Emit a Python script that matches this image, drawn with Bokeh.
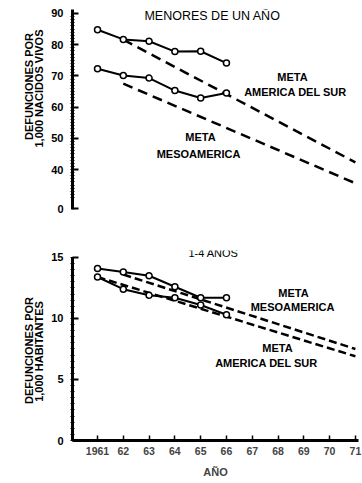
from math import pi
from bokeh.plotting import figure
from bokeh.layouts import column, row
from bokeh.models import Range1d, FixedTicker, Label
from bokeh.core.properties import value
from bokeh.embed import file_html
from bokeh.resources import INLINE

# ---------------- data ----------------
years = [1961, 1962, 1963, 1964, 1965, 1966]

# Menores de un año (defunciones por 1,000 nacidos vivos)
infant_sur = [84.8, 81.7, 81.1, 77.8, 77.9, 74.1]
infant_meso = [72.3, 70.1, 69.3, 65.3, 62.9, 64.5]
goal_infant_sur_years = [1962, 1971]
goal_infant_sur = [81.6, 42.3]
goal_infant_meso_years = [1962, 1971]
goal_infant_meso = [67.5, 35.6]

# 1-4 años (defunciones por 1,000 habitantes)
child_meso = [14.1, 13.8, 13.5, 12.6, 11.7, 11.7]
child_sur = [13.4, 12.4, 11.9, 11.7, 11.1, 10.3]
goal_child_meso_years = [1962, 1971]
goal_child_meso = [13.6, 7.5]
goal_child_sur_years = [1961, 1971]
goal_child_sur = [13.4, 6.9]

top_ticks = [40, 50, 60, 70, 80, 90]
top_zero_tick = 27.5          # broken axis: position of the "0" label
bottom_ticks = [0, 5, 10, 15]
year_ticks = [1961, 1962, 1963, 1964, 1965, 1966, 1967, 1968, 1969, 1970, 1971]
year_labels = ["1961", "62", "63", "64", "65", "66", "67", "68", "69", "70", "71"]

y_titles = ["DEFUNCIONES POR", "1,000 NACIDOS VIVOS", "DEFUNCIONES POR", "1,000 HABITANTES"]

FONT = "Liberation Sans"

# pixel helpers (page coordinates -> data) for annotation placement
PPY = 286 / 11.09
def xd(px):
    return 1960.03 + (px - 72) / PPY
def yt(py):
    return 90 - (py - 13) / 3.12
def yb(py):
    return 15 - (py - 257) / 12.2

x_range = Range1d(1960.03, 1971.12)

def style_yaxis(ax, ticks, minor, overrides=None):
    ax.ticker = FixedTicker(ticks=ticks, minor_ticks=minor)
    if overrides:
        ax.major_label_overrides = overrides
    ax.axis_line_width = 3
    ax.axis_line_color = "black"
    ax.major_tick_in = 6
    ax.major_tick_out = 0
    ax.major_tick_line_width = 2
    ax.minor_tick_in = 2
    ax.minor_tick_out = 2
    ax.minor_tick_line_width = 1
    ax.major_label_standoff = 7
    ax.major_label_text_font = FONT
    ax.major_label_text_font_size = "11px"
    ax.major_label_text_font_style = "bold"
    ax.major_label_text_color = "black"

def lbl(p, x, y, text, size="11px", style="bold"):
    p.add_layout(Label(x=x, y=y, text=text, text_align="center", text_baseline="middle",
                       text_font=FONT, text_font_size=size, text_font_style=style,
                       text_color="black"))

# ---------------- left strip with the y-axis titles ----------------
strip = figure(width=46, height=483, x_range=Range1d(0, 46), y_range=Range1d(483, 0),
               x_axis_type=None, y_axis_type=None, toolbar_location=None,
               output_backend="svg", min_border=0)
strip.outline_line_color = None
strip.grid.visible = False
strip.text(x=[28, 38, 28, 38], y=[86, 88, 350, 351], text=y_titles, angle=pi / 2,
           text_align="center", text_baseline="middle", text_font=value(FONT),
           text_font_size="11px", text_font_style="bold", text_color="black")

# ---------------- top panel ----------------
p1 = figure(width=316, height=223, x_range=x_range, y_range=Range1d(27.18, 91.28),
            x_axis_type=None, toolbar_location=None, output_backend="svg",
            min_border_left=26, min_border_right=4, min_border_top=9, min_border_bottom=14)
p1.outline_line_color = None
p1.grid.visible = False
style_yaxis(p1.yaxis[0], [top_zero_tick] + top_ticks, [v for v in range(31, 90)],
            {top_zero_tick: "0"})

p1.line(goal_infant_sur_years, goal_infant_sur, line_width=2.5, line_dash="10 6", color="black")
p1.line(goal_infant_meso_years, goal_infant_meso, line_width=2.5, line_dash="10 6", color="black")
for series in (infant_sur, infant_meso):
    p1.line(years, series, line_width=2, color="black")
    p1.scatter(years, series, size=6, fill_color="white", line_color="black", line_width=1.5)

lbl(p1, xd(212), yt(16), "MENORES DE UN AÑO", size="12.5px", style="normal")
lbl(p1, xd(292), yt(77), "META")
lbl(p1, xd(295), yt(92), "AMERICA DEL SUR")
lbl(p1, xd(200), yt(137), "META")
lbl(p1, xd(198), yt(154), "MESOAMERICA")

# ---------------- bottom panel ----------------
p2 = figure(width=316, height=260, x_range=x_range, y_range=Range1d(0, 15.57),
            toolbar_location=None, output_backend="svg",
            min_border_left=26, min_border_right=4, min_border_top=27, min_border_bottom=43)
p2.outline_line_color = None
p2.grid.visible = False
style_yaxis(p2.yaxis[0], bottom_ticks, [v / 2 for v in range(0, 31)])
p2.yaxis[0].bounds = (0, 15)

xa = p2.xaxis[0]
xa.ticker = FixedTicker(ticks=year_ticks)
xa.major_label_overrides = {t: s for t, s in zip(year_ticks, year_labels)}
xa.axis_line_width = 3
xa.major_tick_in = 5
xa.major_tick_out = 0
xa.major_tick_line_width = 1.5
xa.minor_tick_line_color = None
xa.major_label_standoff = 6
xa.major_label_text_font = FONT
xa.major_label_text_font_size = "10.5px"
xa.major_label_text_font_style = "bold"
xa.axis_label = "AÑO"
xa.axis_label_standoff = 8
xa.axis_label_text_font = FONT
xa.axis_label_text_font_size = "11px"
xa.axis_label_text_font_style = "bold"

p2.line(goal_child_meso_years, goal_child_meso, line_width=2.5, line_dash="8 4", color="black")
p2.line(goal_child_sur_years, goal_child_sur, line_width=2.5, line_dash="8 4", color="black")
for series in (child_meso, child_sur):
    p2.line(years, series, line_width=2, color="black")
    p2.scatter(years, series, size=6, fill_color="white", line_color="black", line_width=1.5)

lbl(p2, xd(213), yb(253), "1-4 AÑOS", size="11px", style="normal")
lbl(p2, xd(293), yb(293), "META")
lbl(p2, xd(292), yb(307), "MESOAMERICA")
lbl(p2, xd(277), yb(348), "META")
lbl(p2, xd(266), yb(363), "AMERICA DEL SUR")

layout = row(strip, column(p1, p2))
open("out.html", "w").write(file_html(layout, INLINE))
